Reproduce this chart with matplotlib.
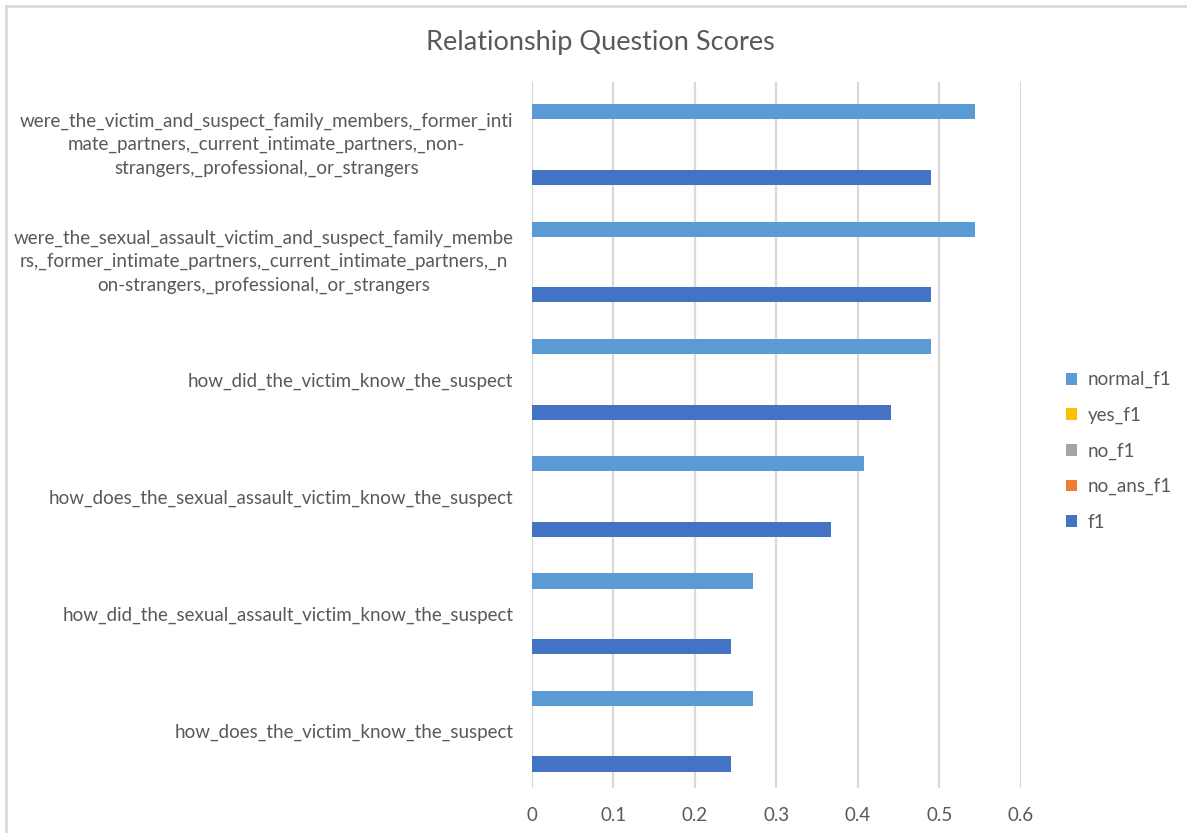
import matplotlib.pyplot as plt
import matplotlib.transforms as mtransforms
from matplotlib.patches import Patch
from matplotlib.lines import Line2D
import numpy as np

# question labels, top to bottom
questions = [
    'were_the_victim_and_suspect_family_members,_former_inti\nmate_partners,_current_intimate_partners,_non-\nstrangers,_professional,_or_strangers',
    'were_the_sexual_assault_victim_and_suspect_family_membe\nrs,_former_intimate_partners,_current_intimate_partners,_n\non-strangers,_professional,_or_strangers',
    'how_did_the_victim_know_the_suspect',
    'how_does_the_sexual_assault_victim_know_the_suspect',
    'how_did_the_sexual_assault_victim_know_the_suspect',
    'how_does_the_victim_know_the_suspect',
]

series_names = ['normal_f1', 'yes_f1', 'no_f1', 'no_ans_f1', 'f1']
normal_f1 = [0.544, 0.544, 0.490, 0.408, 0.272, 0.272]
yes_f1    = [0, 0, 0, 0, 0, 0]
no_f1     = [0, 0, 0, 0, 0, 0]
no_ans_f1 = [0, 0, 0, 0, 0, 0]
f1        = [0.490, 0.490, 0.441, 0.367, 0.245, 0.245]
values = [normal_f1, yes_f1, no_f1, no_ans_f1, f1]

colors = ['#5B9BD5', '#FFC000', '#A5A5A5', '#ED7D31', '#4472C4']
text_color = '#595959'
grid_color = '#D9D9D9'
font = 'Lato'
fontsize = 13.5

plt.rcParams['font.family'] = [font, 'DejaVu Sans']

fig = plt.figure(figsize=(11.87, 8.33), dpi=100)
ax = fig.add_axes([0.4478, 0.054, 0.4124, 0.8476])

slot = 0.14
ypos = np.arange(len(questions))
for j, (name, vals) in enumerate(zip(series_names, values)):
    ax.barh(ypos + (j - 2) * slot, vals, height=slot * 0.92,
            color=colors[j], linewidth=0, zorder=3)

ax.set_ylim(5.485, -0.535)
ax.set_xlim(0, 0.6)
ax.set_xticks(np.arange(0, 0.61, 0.1))
ax.set_xticklabels(['0', '0.1', '0.2', '0.3', '0.4', '0.5', '0.6'])
ax.set_yticks(ypos)
ax.set_yticklabels(questions, multialignment='center', linespacing=1.45)
ax.tick_params(axis='both', length=0, labelsize=fontsize, labelcolor=text_color)
ax.tick_params(axis='y', pad=13)
ax.tick_params(axis='x', pad=14)
ax.grid(axis='x', color=grid_color, linewidth=1.6, zorder=0)
for s in ax.spines.values():
    s.set_visible(False)

# wrapped labels sit a little high
for lbl in ax.get_yticklabels():
    if '\n' in lbl.get_text():
        lbl.set_transform(lbl.get_transform() +
                          mtransforms.ScaledTranslation(0, 0.05, fig.dpi_scale_trans))

fig.text(0.5055, 0.949, 'Relationship Question Scores', ha='center', va='center',
         fontsize=19.5, color=text_color)

handles = [Patch(facecolor=c, edgecolor='none') for c in colors]
leg = fig.legend(handles, series_names, loc='center left',
                 bbox_to_anchor=(0.890, 0.4586), frameon=False,
                 fontsize=fontsize, labelcolor=text_color,
                 handlelength=0.6, handleheight=0.6, handletextpad=0.55,
                 labelspacing=0.98, borderpad=0)

# chart frame
fig.add_artist(Line2D([6 / 1187, 6 / 1187], [0, 1 - 6 / 833], transform=fig.transFigure,
                      color=grid_color, linewidth=2))
fig.add_artist(Line2D([6 / 1187, 1], [1 - 6 / 833, 1 - 6 / 833], transform=fig.transFigure,
                      color=grid_color, linewidth=2))

fig.savefig('out.png', dpi=100)
